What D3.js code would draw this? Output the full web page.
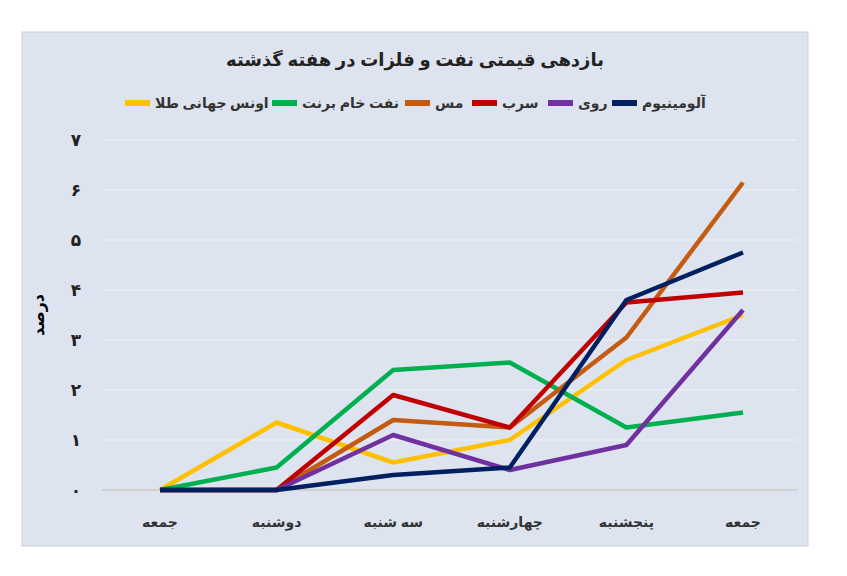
<!DOCTYPE html>
<html><head><meta charset="utf-8">
<script src="https://cdn.jsdelivr.net/npm/d3@7"></script>
<style>body{margin:0;background:#fff}</style></head>
<body><svg id="c" width="847" height="576"></svg>
<script>
const categories=["جمعه","دوشنبه","سه شنبه","چهارشنبه","پنجشنبه","جمعه"];
const yTicks=[0,1,2,3,4,5,6,7];
const yTickLabels=["۰","۱","۲","۳","۴","۵","۶","۷"];
const seriesNames=["اونس جهانی طلا","نفت خام برنت","مس","سرب","روی","آلومینیوم"];
const seriesColors=["#FFC000","#00B050","#C55A11","#C00000","#7030A0","#002060"];
const gold=[0,1.35,0.55,1.0,2.6,3.5];
const brent=[0,0.45,2.4,2.55,1.25,1.55];
const copper=[0,0,1.4,1.25,3.05,6.15];
const lead=[0,0,1.9,1.25,3.75,3.95];
const zinc=[0,0,1.1,0.4,0.9,3.6];
const aluminium=[0,0,0.3,0.45,3.8,4.75];
const seriesValues=[gold,brent,copper,lead,zinc,aluminium];

const svg=d3.select("#c");
const F="'Noto Sans', 'DejaVu Sans', sans-serif";
svg.append("rect").attr("x",22).attr("y",32).attr("width",786).attr("height",514).attr("fill","#dde4ef").attr("stroke","#c8d0dc");
const x=d3.scalePoint().domain(d3.range(6)).range([160,743]);
const y=d3.scaleLinear().domain([0,7]).range([490,140]);
svg.append("g").selectAll("line").data(yTicks.slice(1)).join("line")
 .attr("x1",102).attr("x2",797).attr("y1",d=>y(d)).attr("y2",d=>y(d)).attr("stroke","#f2f2f2").attr("stroke-width",1);
svg.append("line").attr("x1",102).attr("x2",797).attr("y1",y(0)).attr("y2",y(0)).attr("stroke","#d0d0d0").attr("stroke-width",2);
svg.append("g").selectAll("text").data(yTicks).join("text")
 .attr("x",76).attr("y",d=>y(d)+6).attr("text-anchor","middle").attr("font-family",F).attr("font-size",17).attr("font-weight","bold").attr("fill","#222").text((d,i)=>yTickLabels[i]);
svg.append("g").selectAll("text").data(categories).join("text")
 .attr("x",(d,i)=>x(i)).attr("y",527).attr("text-anchor","middle").attr("font-family",F).attr("font-size",14).attr("font-weight","bold").attr("fill","#333").text(d=>d);
svg.append("text").attr("transform","translate(44,315) rotate(-90)").attr("text-anchor","middle").attr("font-family",F).attr("font-size",16).attr("font-weight","bold").text("درصد");
svg.append("text").attr("x",415).attr("y",66).attr("text-anchor","middle").attr("font-family",F).attr("font-size",18).attr("font-weight","bold").attr("fill","#222").text("بازدهی قیمتی نفت و فلزات در هفته گذشته");
const line=d3.line().x((d,i)=>x(i)).y(d=>y(d));
seriesValues.forEach((v,k)=>{
 svg.append("path").datum(v).attr("d",line).attr("fill","none").attr("stroke",seriesColors[k]).attr("stroke-width",4.5).attr("stroke-linejoin","round");
});
const legX=[125,272,405,472,548,612];
seriesNames.forEach((n,k)=>{
 svg.append("line").attr("x1",legX[k]).attr("x2",legX[k]+25).attr("y1",103).attr("y2",103).attr("stroke",seriesColors[k]).attr("stroke-width",6);
 svg.append("text").attr("x",legX[k]+30).attr("y",108).attr("font-family",F).attr("font-size",14).attr("font-weight","bold").attr("fill","#333").text(n);
});
</script></body></html>
